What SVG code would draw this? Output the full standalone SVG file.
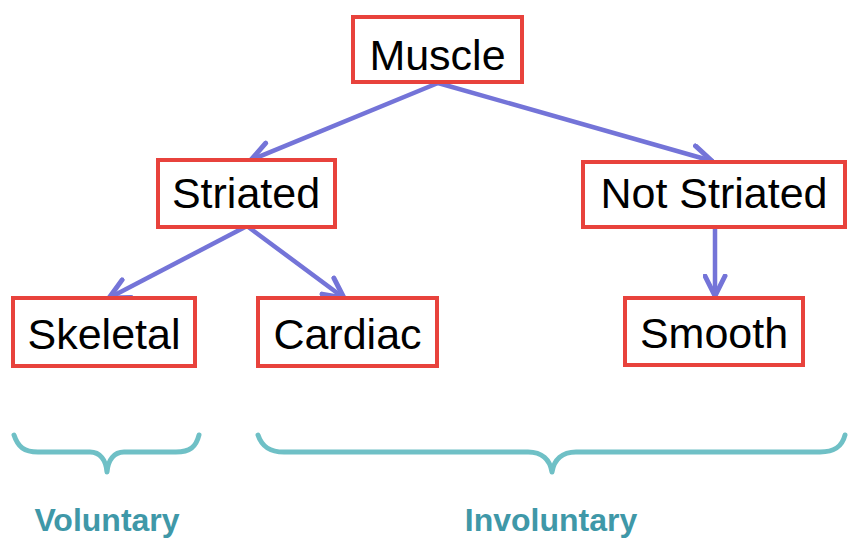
<svg xmlns="http://www.w3.org/2000/svg" width="867" height="541" viewBox="0 0 867 541">
<style>
.box{fill:#fff;stroke:#e8423c;stroke-width:4}
.lbl{font-family:"Liberation Sans",Arial,sans-serif;font-size:43px;fill:#000;text-anchor:middle}
.edge{stroke:#7474d8;stroke-width:4.5;fill:none;stroke-linecap:round}
.brace{stroke:#6fc0c6;stroke-width:5;fill:none;stroke-linecap:round;stroke-linejoin:round}
.cat{font-family:"Liberation Sans",Arial,sans-serif;font-weight:bold;font-size:32px;fill:#3f98a8;text-anchor:middle}
</style>
<defs>
<marker id="ah" viewBox="0 0 20 20" refX="18" refY="10" markerWidth="25" markerHeight="25" markerUnits="userSpaceOnUse" orient="auto">
<path d="M2,2 L18,10 L2,18" fill="none" stroke="#7474d8" stroke-width="4" stroke-linecap="round" stroke-linejoin="round"/>
</marker>
</defs>
<rect width="867" height="541" fill="#fff"/>
<g id="connectors">
<path class="edge" d="M438,83 L251,160" marker-end="url(#ah)"/>
<path class="edge" d="M438,83 L712,161" marker-end="url(#ah)"/>
<path class="edge" d="M247,226 L109,298" marker-end="url(#ah)"/>
<path class="edge" d="M247,226 L344,298" marker-end="url(#ah)"/>
<path class="edge" d="M715,228 L715,296" marker-end="url(#ah)"/>
</g>
<g id="muscle"><rect class="box" x="353" y="17" width="169" height="65"/><text class="lbl" x="437.5" y="70">Muscle</text></g>
<g id="striated"><rect class="box" x="158" y="160" width="177" height="67"/><text class="lbl" x="246" y="208">Striated</text></g>
<g id="not-striated"><rect class="box" x="583" y="162" width="262" height="65"/><text class="lbl" x="714" y="208">Not Striated</text></g>
<g id="skeletal"><rect class="box" x="13" y="298" width="182" height="68"/><text class="lbl" x="104" y="349">Skeletal</text></g>
<g id="cardiac"><rect class="box" x="258" y="298" width="179" height="68"/><text class="lbl" x="347.5" y="349">Cardiac</text></g>
<g id="smooth"><rect class="box" x="625" y="298" width="178" height="67"/><text class="lbl" x="714" y="348">Smooth</text></g>
<g id="voluntary">
<path class="brace" d="M14,435 C18,447 24,452 38,452 L90,452 C100,452 106,460 107,472 C108,460 114,452 124,452 L176,452 C190,452 196,447 199,435"/>
<text class="cat" x="107" y="531">Voluntary</text>
</g>
<g id="involuntary">
<path class="brace" d="M258,435 C262,447 270,452 284,452 L528,452 C542,452 550,460 552,472 C554,460 562,452 576,452 L820,452 C834,452 842,447 845,435"/>
<text class="cat" x="551" y="531">Involuntary</text>
</g>
</svg>
